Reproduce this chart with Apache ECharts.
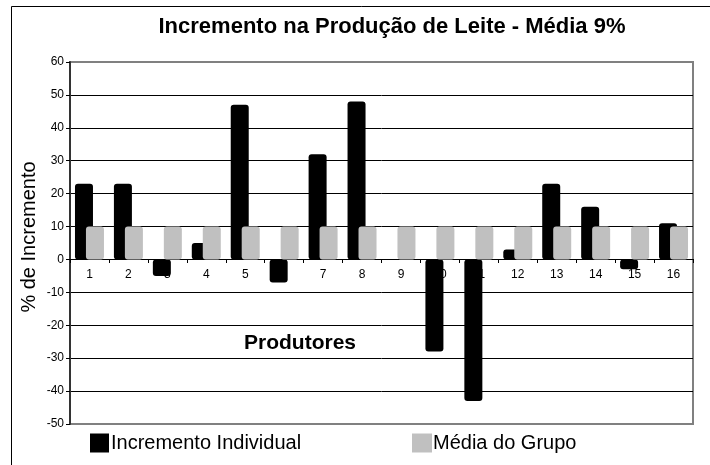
<!DOCTYPE html>
<html>
<head>
<meta charset="utf-8">
<script src="https://cdn.jsdelivr.net/npm/echarts@6/dist/echarts.min.js"></script>
<style>
html,body{margin:0;padding:0;background:#fff;}
#chart{width:710px;height:465px;}
</style>
</head>
<body>
<div id="chart"></div>
<script>
var titleText = 'Incremento na Produção de Leite - Média 9%';
var categories = ['1','2','3','4','5','6','7','8','9','10','11','12','13','14','15','16'];
var individualName = 'Incremento Individual';
var mediaName = 'Média do Grupo';
var individual = [23, 23, -5, 5, 47, -7, 32, 48, 0, -28, -43, 3, 23, 16, -3, 11];
var media = [10, 10, 10, 10, 10, 10, 10, 10, 10, 10, 10, 10, 10, 10, 10, 10];
var yAxisName = '% de Incremento';
var xAxisName = 'Produtores';

var FONT = '"Liberation Sans", Arial, sans-serif';
var chart = echarts.init(document.getElementById('chart'), null, {renderer: 'canvas'});
var splitColors = ['rgba(0,0,0,0)'];
for (var i = 0; i < 10; i++) splitColors.push('#000');
splitColors.push('rgba(0,0,0,0)');

chart.setOption({
  animation: false,
  backgroundColor: '#fff',
  textStyle: {fontFamily: FONT},
  grid: {left: 70, right: 17, top: 62, bottom: 41, show: true, borderColor: '#808080', borderWidth: 2, backgroundColor: 'transparent', containLabel: false},
  legend: [
    {data: [individualName], left: 90, top: 433, icon: 'rect', itemWidth: 19, itemHeight: 19, padding: 0,
     textStyle: {fontSize: 20, color: '#000', fontFamily: FONT, padding: [0, 0, 0, -3]}},
    {data: [mediaName], left: 412, top: 433, icon: 'rect', itemWidth: 20, itemHeight: 19, padding: 0,
     textStyle: {fontSize: 20, color: '#000', fontFamily: FONT, padding: [0, 0, 0, -4]}}
  ],
  xAxis: {
    type: 'category', data: categories, z: 0, position: 'bottom', offset: -165,
    axisLine: {onZero: false, lineStyle: {color: '#000', width: 1}},
    axisTick: {show: true, length: 4, lineStyle: {color: '#000'}},
    axisLabel: {fontSize: 12, color: '#000', margin: 10, fontFamily: FONT},
    splitLine: {show: false}
  },
  yAxis: {
    type: 'value', min: -50, max: 60, interval: 10, z: 0,
    axisLine: {show: true, lineStyle: {color: '#333', width: 2}},
    axisTick: {show: true, length: 4, lineStyle: {color: '#000'}},
    axisLabel: {fontSize: 12, color: '#000', margin: 6, fontFamily: FONT},
    splitLine: {show: true, lineStyle: {color: splitColors, width: 1}}
  },
  series: [
    {name: individualName, type: 'bar', data: individual, barWidth: 18, barGap: '-39%', z: 3,
     itemStyle: {color: '#000', borderRadius: 3}},
    {name: mediaName, type: 'bar', data: media, barWidth: 18, z: 4,
     itemStyle: {color: '#c0c0c0', borderRadius: 3}}
  ],
  graphic: [
    {type: 'rect', shape: {x: 11.5, y: 6.5, width: 900, height: 900}, style: {fill: 'none', stroke: '#000', lineWidth: 1}, z: 100, silent: true},
    {type: 'text', x: 392, y: 27, style: {text: titleText, font: 'bold 22px ' + FONT, fill: '#000', textAlign: 'center', textVerticalAlign: 'middle'}},
    {type: 'text', x: 300, y: 343, style: {text: xAxisName, font: 'bold 21px ' + FONT, fill: '#000', textAlign: 'center', textVerticalAlign: 'middle'}, z: 10},
    {type: 'text', x: 29, y: 237, rotation: Math.PI / 2, style: {text: yAxisName, font: '20px ' + FONT, fill: '#000', textAlign: 'center', textVerticalAlign: 'middle'}}
  ]
});
</script>
</body>
</html>
